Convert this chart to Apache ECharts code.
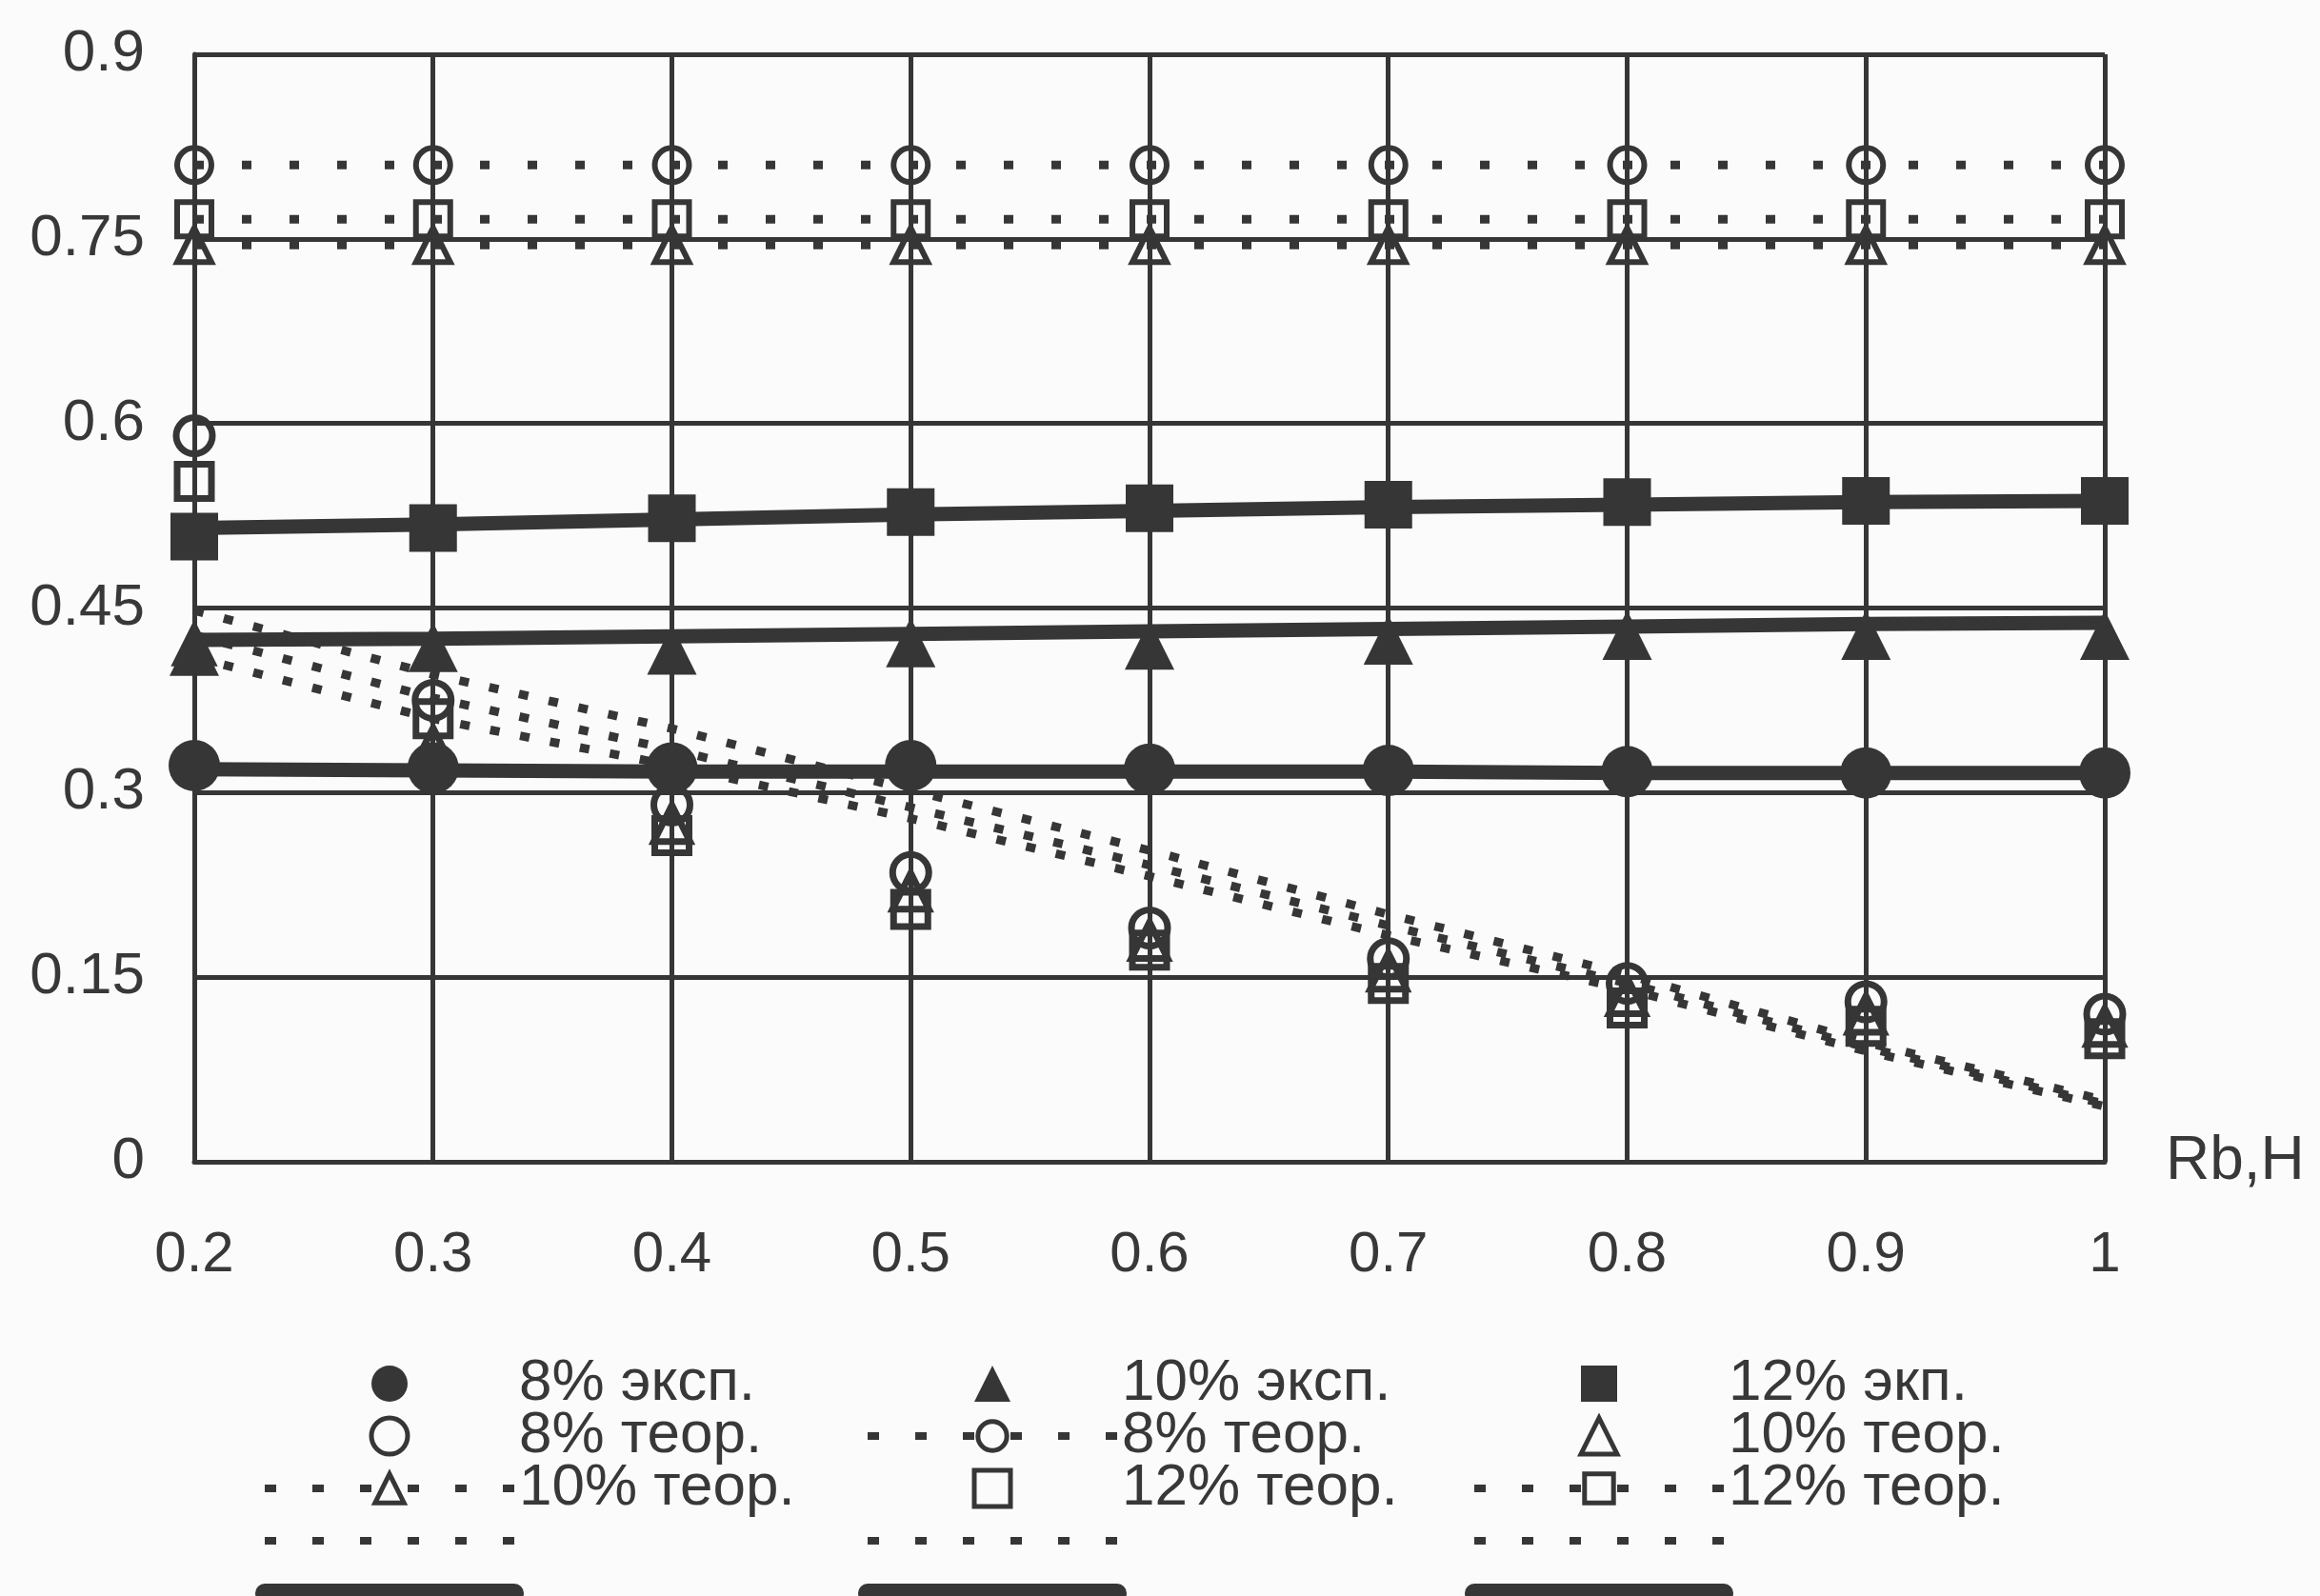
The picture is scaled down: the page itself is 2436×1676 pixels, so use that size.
<!DOCTYPE html>
<html><head><meta charset="utf-8">
<script src="https://cdn.jsdelivr.net/npm/echarts@6/dist/echarts.min.js"></script>
<style>html,body{margin:0;padding:0;background:#fbfbfb}#c{width:2436px;height:1676px}</style>
</head><body><div id="c"></div>
<script>
// ---- data ----
const xValues = [0.2, 0.3, 0.4, 0.5, 0.6, 0.7, 0.8, 0.9, 1.0];
const xTickLabels = ['0.2','0.3','0.4','0.5','0.6','0.7','0.8','0.9','1'];
const yTickLabels = ['0','0.15','0.3','0.45','0.6','0.75','0.9'];

const exp8  = [0.322, 0.320, 0.320, 0.322, 0.319, 0.318, 0.317, 0.316, 0.316];
const exp10 = [0.415, 0.418, 0.416, 0.422, 0.420, 0.424, 0.428, 0.428, 0.428];
const exp12 = [0.508, 0.515, 0.523, 0.528, 0.531, 0.534, 0.536, 0.537, 0.537];

const teor8pts  = [0.590, 0.375, 0.290, 0.235, 0.190, 0.165, 0.145, 0.130, 0.120];
const teor10pts = [0.420, 0.338, 0.275, 0.220, 0.180, 0.155, 0.135, 0.120, 0.110];
const teor12pts = [0.553, 0.360, 0.265, 0.205, 0.172, 0.145, 0.125, 0.110, 0.100];

const teor8line  = [0.810, 0.810, 0.810, 0.810, 0.810, 0.810, 0.810, 0.810, 0.810];
const teor10line = [0.745, 0.745, 0.745, 0.745, 0.745, 0.745, 0.745, 0.745, 0.745];
const teor12line = [0.766, 0.766, 0.766, 0.766, 0.766, 0.766, 0.766, 0.766, 0.766];

const curve8  = [0.448, 0.396, 0.352, 0.302, 0.253, 0.201, 0.152, 0.097, 0.050];
const curve10 = [0.428, 0.377, 0.335, 0.288, 0.241, 0.192, 0.145, 0.093, 0.047];
const curve12 = [0.410, 0.360, 0.322, 0.279, 0.232, 0.184, 0.140, 0.090, 0.045];

const trend8  = [0.319, 0.318, 0.317, 0.317, 0.317, 0.317, 0.316, 0.316, 0.316];
const trend10 = [0.424, 0.425, 0.427, 0.429, 0.431, 0.433, 0.435, 0.437, 0.438];
const trend12 = [0.515, 0.518, 0.522, 0.526, 0.529, 0.532, 0.534, 0.536, 0.537];

// ---- helpers ----
const INK = '#363636';
const TXT = '#383838';
const BG = '#fbfbfb';
const ZW = '\u200b';
const HIDDEN = new Set(['c8','c10','c12','t8','t10','t12']);
const FONT = 'Liberation Sans, Arial, sans-serif';
function pairs(arr){ return xValues.map((x,i)=>[x, arr[i]]); }

function scatter(name, arr, symbol, size, filled){
  return { name, type:'scatter', data:pairs(arr), symbol, symbolSize:size, z:5,
    itemStyle: filled ? {color:INK, opacity:1} : {color:'rgba(0,0,0,0)', borderColor:INK, borderWidth:7, opacity:1} };
}
function dashedMarked(name, arr, symbol){
  return { name, type:'line', data:pairs(arr), symbol, symbolSize:36, showSymbol:true, z:4,
    lineStyle:{color:INK, width:9, type:[10,40]},
    itemStyle:{color:'rgba(0,0,0,0)', borderColor:INK, borderWidth:6} };
}
function dotted(name, arr){
  return { name, type:'line', data:pairs(arr), symbol:'none', z:3,
    lineStyle:{color:INK, width:9, type:[10,22]}, itemStyle:{color:INK} };
}
function thick(name, arr){
  return { name, type:'line', data:pairs(arr), symbol:'none', z:3,
    lineStyle:{color:INK, width:15}, itemStyle:{color:INK} };
}

const series = [
  thick('t8', trend8), thick('t10', trend10), thick('t12', trend12),
  dotted('c8', curve8), dotted('c10', curve10), dotted('c12', curve12),
  dashedMarked('8% теор.'+ZW, teor8line, 'circle'),
  dashedMarked('10% теор.'+ZW, teor10line, 'triangle'),
  dashedMarked('12% теор.'+ZW, teor12line, 'rect'),
  scatter('8% теор.', teor8pts, 'circle', 38, false),
  scatter('10% теор.', teor10pts, 'triangle', 38, false),
  scatter('12% теор.', teor12pts, 'rect', 36, false),
  scatter('8% эксп.', exp8, 'circle', 54, true),
  scatter('10% эксп.', exp10, 'triangle', 52, true),
  scatter('12% экп.', exp12, 'rect', 50, true)
];

const TRI = 'path://M5,0 L10,10 L0,10 Z';
const SQ = 'path://M0,0 L10,0 L10,10 L0,10 Z';
const openIcon = {color:'rgba(0,0,0,0)', borderColor:INK, borderWidth:5};
const filledIcon = {color:INK, borderWidth:0, opacity:1};
const lineItem = (name)=>({name, lineStyle:{width:8, type:[12,38]}, itemStyle:{color:BG, borderColor:INK, borderWidth:5}});
const dotItem = (name)=>({name, lineStyle:{width:8, type:[12,38]}, itemStyle:{color:'rgba(0,0,0,0)', borderColor:'rgba(0,0,0,0)', borderWidth:0}});
const barItem = (name)=>({name, lineStyle:{width:20, cap:'round', type:'solid'}, itemStyle:{color:'rgba(0,0,0,0)', borderColor:'rgba(0,0,0,0)', borderWidth:0}});

function legendCol(left, data){
  return { orient:'vertical', left, top:1422, height:400, itemWidth:262, itemHeight:38, itemGap:-7,
    selectedMode:false, padding:0, symbolKeepAspect:true,
    textStyle:{fontSize:62, color:TXT, fontFamily:FONT},
    formatter: n => HIDDEN.has(n) ? ' ' : n.replace(/\u200b/g,''),
    data };
}

const option = {
  backgroundColor:BG,
  animation:false,
  grid:{left:204, right:226, top:57, bottom:456, containLabel:false},
  xAxis:{
    type:'value', min:0.2, max:1, interval:0.1,
    name:'Rb,H', nameLocation:'end', nameGap:64,
    nameTextStyle:{fontSize:64, color:TXT, fontFamily:FONT, padding:[0,0,36,0]},
    axisLine:{show:true, lineStyle:{color:INK, width:5}},
    axisTick:{show:false},
    axisLabel:{fontSize:60, color:TXT, fontFamily:FONT, margin:68,
      formatter:(v)=>{ const i = xValues.findIndex(x=>Math.abs(x-v)<1e-6); return i>=0 ? xTickLabels[i] : ''; }},
    splitLine:{show:true, lineStyle:{color:INK, width:5}}
  },
  yAxis:{
    type:'value', min:0, max:0.9, interval:0.15,
    axisLine:{show:true, lineStyle:{color:INK, width:5}},
    axisTick:{show:false},
    axisLabel:{fontSize:62, color:TXT, fontFamily:FONT, margin:52,
      formatter:(v)=>{ const i = Math.round(v/0.15); return yTickLabels[i] || ''; }},
    splitLine:{show:true, lineStyle:{color:INK, width:5}}
  },
  legend:[
    legendCol(268, [ {name:'8% эксп.', icon:'circle', itemStyle:filledIcon}, {name:'8% теор.', icon:'circle', itemStyle:openIcon}, lineItem('10% теор.'+ZW), dotItem('c8'), barItem('t8') ]),
    legendCol(901, [ {name:'10% эксп.', icon:TRI, itemStyle:filledIcon}, lineItem('8% теор.'+ZW), {name:'12% теор.', icon:SQ, itemStyle:openIcon}, dotItem('c10'), barItem('t10') ]),
    legendCol(1538,[ {name:'12% экп.', icon:SQ, itemStyle:filledIcon}, {name:'10% теор.', icon:TRI, itemStyle:openIcon}, lineItem('12% теор.'+ZW), dotItem('c12'), barItem('t12') ])
  ],
  series
};
const chart = echarts.init(document.getElementById('c'), null, {renderer:'canvas'});
chart.setOption(option);
</script>
</body></html>
